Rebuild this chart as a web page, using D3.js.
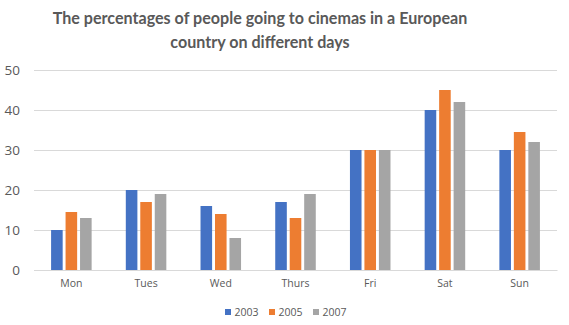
<!DOCTYPE html>
<html>
<head>
<meta charset="utf-8">
<script src="https://cdn.jsdelivr.net/npm/d3@7"></script>
<style>
  html, body { margin: 0; padding: 0; background: #fff; }
  svg { display: block; }
</style>
</head>
<body>
<svg id="chart" width="569" height="325"></svg>
<script>
// Cinema attendance by day of week, three survey years
const days = ["Mon", "Tues", "Wed", "Thurs", "Fri", "Sat", "Sun"];
const years = ["2003", "2005", "2007"];
const values2003 = [10, 20, 16, 17, 30, 40, 30];
const values2005 = [14.5, 17, 14, 13, 30, 45, 34.5];
const values2007 = [13, 19, 8, 19, 30, 42, 32];
const yTicks = [0, 10, 20, 30, 40, 50];
const colors = ["#4472c4", "#ed7d31", "#a5a5a5"];

const series = [values2003, values2005, values2007];
const rows = days.map((d, i) => ({ day: d, vals: series.map(s => s[i]) }));

const svg = d3.select("#chart");
const margin = { left: 34, right: 12, top: 70, bottom: 55 };
const W = 569, H = 325;

const x = d3.scaleBand().domain(days)
  .range([margin.left, W - margin.right])
  .paddingInner(0.38).paddingOuter(0.19);
const xs = d3.scaleBand().domain(years)
  .range([0, x.bandwidth()]).padding(0.2);
const y = d3.scaleLinear().domain([0, 50]).range([H - margin.bottom, margin.top]);
const color = d3.scaleOrdinal().domain(years).range(colors);

const font = "'Open Sans', 'Noto Sans', sans-serif";

// Title
const title = svg.append("text")
  .attr("x", 260).attr("text-anchor", "middle")
  .attr("font-family", "Lato, 'Open Sans', sans-serif")
  .attr("font-weight", "bold").attr("font-size", 16.1)
  .attr("fill", "#595959");
title.append("tspan").attr("x", 260).attr("y", 24)
  .text("The percentages of people going to cinemas in a European");
title.append("tspan").attr("x", 260).attr("y", 48)
  .text("country on different days");

// Gridlines and y labels
const yAxis = d3.axisLeft(y).tickValues(yTicks)
  .tickSize(-(W - margin.right - margin.left)).tickPadding(14);
const gy = svg.append("g").attr("transform", `translate(${margin.left},0)`).call(yAxis);
gy.select(".domain").remove();
gy.selectAll(".tick line").attr("stroke", "#d9d9d9").attr("stroke-width", 1);
gy.selectAll(".tick text").attr("fill", "#595959")
  .attr("font-family", font).attr("font-size", 13.5);

// Bars
svg.append("g").selectAll("g").data(rows).join("g")
  .attr("transform", d => `translate(${x(d.day)},0)`)
  .selectAll("rect").data(d => d.vals.map((v, k) => ({ year: years[k], v })))
  .join("rect")
  .attr("x", d => xs(d.year))
  .attr("width", xs.bandwidth())
  .attr("y", d => y(d.v))
  .attr("height", d => y(0) - y(d.v))
  .attr("fill", d => color(d.year));

// Category axis
const xAxis = d3.axisBottom(x).tickSize(0).tickPadding(10);
const gx = svg.append("g").attr("transform", `translate(0,${y(0)})`).call(xAxis);
gx.select(".domain").attr("stroke", "#d9d9d9");
gx.selectAll(".tick text").attr("fill", "#595959")
  .attr("font-family", font).attr("font-size", 10.5);

// Legend
const legendX = [225, 269, 313];
const lg = svg.append("g").selectAll("g").data(years).join("g")
  .attr("transform", (d, i) => `translate(${legendX[i]},307)`);
lg.append("rect").attr("width", 6).attr("height", 6).attr("y", 2)
  .attr("fill", d => color(d));
lg.append("text").attr("x", 9.5).attr("y", 9)
  .attr("font-family", font).attr("font-size", 10.5)
  .attr("fill", "#595959").text(d => d);
</script>
</body>
</html>
